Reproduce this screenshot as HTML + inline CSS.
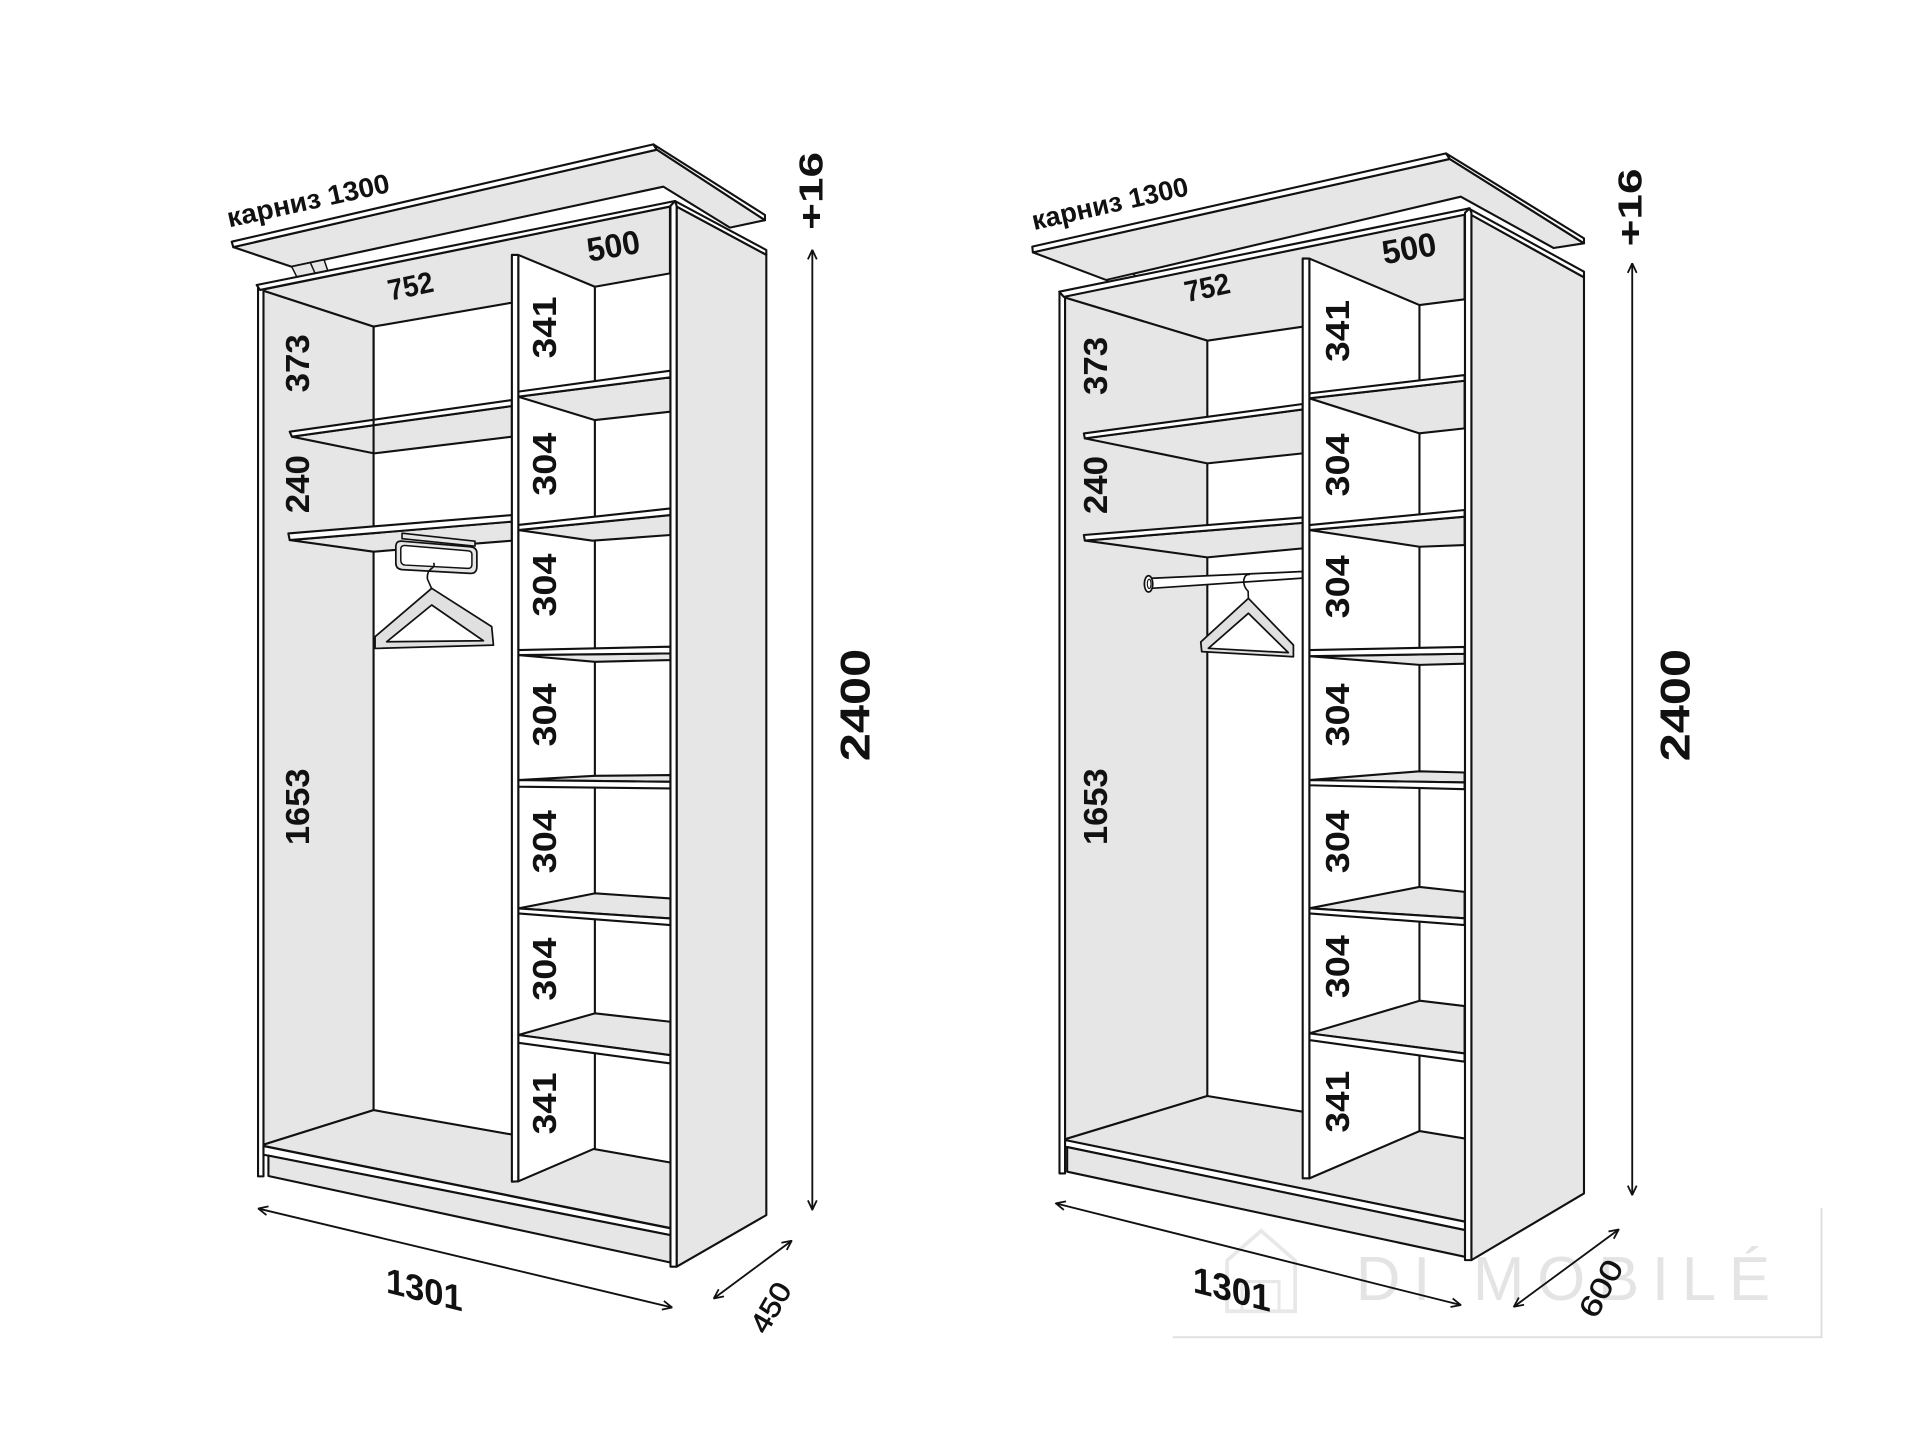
<!DOCTYPE html>
<html>
<head>
<meta charset="utf-8">
<style>
html,body{margin:0;padding:0;background:#fff;}
svg{display:block}
.g{fill:#e6e6e6;stroke:#111;stroke-width:1.7;stroke-linejoin:round}
.w{fill:#fff;stroke:#111;stroke-width:1.7;stroke-linejoin:round}
.l{fill:none;stroke:#111;stroke-width:1.7;stroke-linejoin:round}
.d{fill:none;stroke:#111;stroke-width:1.5}
.t{font-family:"Liberation Sans",Arial,sans-serif;font-weight:bold;fill:#111}
.n{font-family:"Liberation Sans",Arial,sans-serif;font-weight:normal;fill:#111}
</style>
</head>
<body>
<svg xmlns="http://www.w3.org/2000/svg" width="1920" height="1440" viewBox="0 0 1552.14 1164.11" preserveAspectRatio="none">
<defs>
<marker id="ah" viewBox="0 0 10 10" refX="9.5" refY="5" markerWidth="9" markerHeight="9" markerUnits="userSpaceOnUse" orient="auto-start-reverse">
<path d="M1,1 L9.5,5 L1,9" fill="none" stroke="#111" stroke-width="1.6"/>
</marker>
</defs>
<rect x="0" y="0" width="1552.14" height="1164.11" fill="#fff"/>

<!-- watermark -->
<g opacity="0.9">
<path d="M948,1081 L1472.5,1081 L1472.5,976.6" fill="none" stroke="#dcdcdc" stroke-width="1.6"/>
<path d="M992,1060 L992,1019 L1019.5,995 L1047,1019 L1047,1060 Z" fill="none" stroke="#e6e6e6" stroke-width="3"/>
<path d="M1004,1060 L1004,1036 L1034,1036 L1034,1060" fill="none" stroke="#e6e6e6" stroke-width="2.5"/>
<text x="1096" y="1051" font-family="Liberation Sans, Arial, sans-serif" font-size="50" fill="#e2e2e2" textLength="335" lengthAdjust="spacing">DI MOBILÉ</text>
</g>

<!-- ================= LEFT WARDROBE ================= -->
<!-- cornice -->
<polygon class="g" points="188.6,199.8 531,121 618.4,178 590.1,184 536.2,150.9 235.8,215.6"/>
<polygon class="w" points="187.3,195.4 528.2,116.7 531,121 188.6,199.8"/>
<polygon class="w" points="528.2,116.7 618.4,173.8 618.4,178 531,121"/>
<polygon class="g" style="stroke-width:1.2" points="235.8,215.6 262,210 265,218.9 240,224"/>
<line class="l" style="stroke-width:1.2" x1="251" y1="212.6" x2="255" y2="221.6"/>

<!-- right side outer face -->
<polygon class="g" points="547,167 619.5,206 619.5,982.3 547,1024"/>
<polygon class="w" points="545.7,162.5 619.5,202.1 619.5,206 547,167"/>

<!-- ceiling, left wall, floor -->
<polygon class="g" points="211,234.4 541.6,167 541.6,221 480.9,231.8 413.8,244.7 302,264"/>
<polygon class="g" points="211,234.4 302,264 302,897.4 211,926"/>
<polygon class="g" points="211,926 302,897.4 543,940 543,993"/>

<!-- partition face -->
<polygon class="w" points="419,206.1 480.9,231.8 480.9,928.4 419,955"/>

<!-- right compartment shelves -->
<polygon class="g" points="419,320.7 542,305 542,332.8 480.9,339.6"/>
<polygon class="w" points="419,316.6 542,299.7 542,305 419,320.7"/>
<polygon class="g" points="419,428.5 542,416.4 542,432.5 478.9,437.1"/>
<polygon class="w" points="419,424.4 542,411 542,416.4 419,428.5"/>
<polygon class="g" points="419,529.6 542,528.2 542,533.6 480.9,535"/>
<polygon class="w" points="419,525.5 542,522.8 542,528.2 419,529.6"/>
<polygon class="g" points="419,630.6 480.9,627.2 542,626.6 542,632"/>
<polygon class="w" points="419,630.6 542,632 542,637.4 419,636"/>
<polygon class="g" points="419,734.4 480.9,722.2 542,726.3 542,742.5"/>
<polygon class="w" points="419,734.4 542,742.5 542,747.8 419,738.4"/>
<polygon class="g" points="419,836.7 480.9,819.2 542,826 542,853"/>
<polygon class="w" points="419,836.7 542,853 542,859.7 419,843"/>

<!-- left compartment shelves -->
<polygon class="g" points="236,353 413.8,328.2 413.8,353 302.4,366.5"/>
<polygon class="w" points="234.2,349 413.8,323.4 413.8,328.2 236,353"/>
<polygon class="g" points="234.2,436.6 413.8,421.7 413.8,437.1 301.9,446"/>
<polygon class="w" points="233.1,431.2 413.8,416.4 413.8,421.7 234.2,436.6"/>

<!-- pull-down rail + hanger -->
<polygon class="g" style="stroke-width:1.3" points="325,431 384,437.5 384,441.5 325,435.5"/>
<path d="M320,442 L320,455 Q320,460 325,460.5 L380,463.5 Q385.5,463.8 385.5,458 L385.5,447 Q385.5,442.5 380,442 L325,437.5 Q320,437 320,442 Z" fill="#e6e6e6" stroke="#111" stroke-width="1.4"/>
<path d="M324,444 L324,453 Q324,456.5 327.5,456.8 L378,459.5 Q381.5,459.7 381.5,456 L381.5,448 Q381.5,445.5 378,445.2 L327.5,441 Q324,440.8 324,444 Z" fill="#fff" stroke="#111" stroke-width="1.2"/>
<path d="M349,476 L345.5,468 Q345,462 349,459.5 Q352,457.5 350.5,455" fill="none" stroke="#111" stroke-width="1.3"/>
<path d="M349,475.6 L397.5,506.6 L398.9,521.5 L303.2,524.2 L303.2,514.7 Z M349,489.1 L312.6,518.8 L390.8,518 Z" fill="#e0e0e0" fill-rule="evenodd" stroke="#111" stroke-width="1.4" stroke-linejoin="round"/>

<!-- back lines -->
<line class="l" x1="302" y1="264" x2="302" y2="366"/>

<!-- partition front strip -->
<polygon class="w" points="413.8,206 419,206.1 419,955 413.8,955.3"/>
<!-- left panel front strip -->
<polygon class="w" points="208.6,230.6 213,233.6 213,951 208.6,951"/>
<!-- top front strip -->
<polygon class="w" points="207.5,230.4 545.7,162.5 541.6,167 210.2,234.4"/>
<!-- right panel front strip -->
<polygon class="w" points="542,166.5 545.7,162.5 547,166.5 547,1024 542,1024"/>
<!-- bottom front strip and plinth -->
<polygon class="w" points="213,926.5 542,993 542,998.5 217,934.2 213,933.5"/>
<polygon class="g" points="217,934.2 542,998.5 542,1020.6 217,950.7"/>

<!-- labels left wardrobe -->
<text class="t" x="185.3" y="183.8" font-size="22" textLength="134" lengthAdjust="spacingAndGlyphs" transform="rotate(-12.4 185.3 183.8)">карниз 1300</text>
<text class="t" x="332" y="231.8" font-size="24" text-anchor="middle" dominant-baseline="central" textLength="37" lengthAdjust="spacingAndGlyphs" transform="rotate(-12 332 231.8)">752</text>
<text class="t" x="496" y="199.5" font-size="27" text-anchor="middle" dominant-baseline="central" textLength="43" lengthAdjust="spacingAndGlyphs" transform="rotate(-10 496 199.5)">500</text>

<g class="t" font-size="27" text-anchor="middle" dominant-baseline="central">
<text x="241.5" y="293.7" textLength="47" lengthAdjust="spacingAndGlyphs" transform="rotate(-90 241.5 293.7)">373</text>
<text x="241.5" y="391.4" textLength="47" lengthAdjust="spacingAndGlyphs" transform="rotate(-90 241.5 391.4)">240</text>
<text x="241.2" y="652.2" textLength="62" lengthAdjust="spacingAndGlyphs" transform="rotate(-90 241.2 652.2)">1653</text>
<text x="441" y="264.7" textLength="50" lengthAdjust="spacingAndGlyphs" transform="rotate(-90 441 264.7)">341</text>
<text x="441" y="375.3" textLength="51" lengthAdjust="spacingAndGlyphs" transform="rotate(-90 441 375.3)">304</text>
<text x="441" y="473" textLength="51" lengthAdjust="spacingAndGlyphs" transform="rotate(-90 441 473)">304</text>
<text x="441" y="578" textLength="51" lengthAdjust="spacingAndGlyphs" transform="rotate(-90 441 578)">304</text>
<text x="441" y="680.5" textLength="51" lengthAdjust="spacingAndGlyphs" transform="rotate(-90 441 680.5)">304</text>
<text x="441" y="783.5" textLength="51" lengthAdjust="spacingAndGlyphs" transform="rotate(-90 441 783.5)">304</text>
<text x="441" y="892" textLength="50" lengthAdjust="spacingAndGlyphs" transform="rotate(-90 441 892)">341</text>
<text x="656.6" y="154.3" textLength="63" lengthAdjust="spacingAndGlyphs" transform="rotate(-90 656.6 154.3)">+16</text>
<text x="691.2" y="569.9" font-size="34" textLength="91" lengthAdjust="spacingAndGlyphs" transform="rotate(-90 691.2 569.9)">2400</text>
</g>

<!-- dimension arrows left -->
<line class="d" x1="656.7" y1="202" x2="656.7" y2="978" marker-start="url(#ah)" marker-end="url(#ah)"/>
<line class="d" x1="208.8" y1="977" x2="543.3" y2="1057" marker-start="url(#ah)" marker-end="url(#ah)"/>
<line class="d" x1="577" y1="1049.7" x2="640" y2="1003" marker-start="url(#ah)" marker-end="url(#ah)"/>
<g transform="translate(343 1042) skewY(14)">
<text class="t" x="0" y="10.5" font-size="29" text-anchor="middle" textLength="62" lengthAdjust="spacingAndGlyphs">1301</text>
</g>
<g transform="translate(623 1057) rotate(-60)">
<text class="n" x="0" y="8" font-size="23" text-anchor="middle" textLength="43" lengthAdjust="spacingAndGlyphs" style="stroke:#111;stroke-width:0.5">450</text>
</g>

<!-- ================= RIGHT WARDROBE ================= -->
<polygon class="g" points="835,204 1172,128.5 1280.5,196.7 1256,200.5 1180.9,159 894.4,226.4"/>
<polygon class="w" points="834.5,199.4 1169,124 1172,128.5 835,204"/>
<polygon class="w" points="1169,124 1280.5,192.7 1280.5,196.7 1172,128.5"/>
<polygon class="g" style="stroke-width:1.2" points="894.4,226.4 916,221.4 918,223.2 897,227.6"/>

<polygon class="g" points="1189.5,173.8 1280.5,224.2 1280.5,964.8 1189.5,1018.7"/>
<polygon class="w" points="1187,168.4 1280.5,219.6 1280.5,224.2 1189.5,173.8"/>

<polygon class="g" points="859,240 1184,173.5 1184,242 1147.5,246.6 1053.2,264.1 976,275.4"/>
<polygon class="g" points="859,240 976,275.4 976,886 859,921.6"/>
<polygon class="g" points="859,921.6 976,886 1185,920.5 1185,987.7"/>

<polygon class="w" points="1058.5,209 1147.5,246.6 1147.5,914.4 1058.5,952.6"/>

<polygon class="g" points="1058.5,322 1184,307.8 1184,346.3 1147.5,350.3"/>
<polygon class="w" points="1058.5,318 1184,303.2 1184,307.8 1058.5,322"/>
<polygon class="g" points="1058.5,428.5 1184,417.7 1184,440.6 1147.5,442"/>
<polygon class="w" points="1058.5,424.5 1184,412.3 1184,417.7 1058.5,428.5"/>
<polygon class="g" points="1058.5,530.5 1184,528.5 1184,536.5 1147.5,537.5"/>
<polygon class="w" points="1058.5,525.5 1184,523 1184,528.5 1058.5,530.5"/>
<polygon class="g" points="1058.5,630.6 1147.5,623.5 1184,624.5 1184,632.5"/>
<polygon class="w" points="1058.5,630.6 1184,632.5 1184,638 1058.5,634.8"/>
<polygon class="g" points="1058.5,734.3 1147.5,717 1184,721 1184,742.4"/>
<polygon class="w" points="1058.5,734.3 1184,742.4 1184,747.8 1058.5,738.4"/>
<polygon class="g" points="1058.5,835.4 1147.7,809 1184,813.3 1184,851.6"/>
<polygon class="w" points="1058.5,835.4 1184,851.6 1184,858.3 1058.5,840.8"/>

<polygon class="g" points="877,354.4 1053.1,331 1053.1,366.5 976,374.6"/>
<polygon class="w" points="876.2,350.4 1053.1,326.6 1053.1,331 877,354.4"/>
<polygon class="g" points="877,437 1053.1,422.7 1053.1,443.3 976,450.6"/>
<polygon class="w" points="876.2,432.5 1053.1,418.3 1053.1,422.7 877,437"/>

<!-- rod + hanger -->
<polygon class="w" style="stroke-width:1.4" points="931,467.5 1053,462 1053,467.4 931,475.6"/>
<ellipse cx="928.5" cy="472" rx="3.4" ry="6.6" fill="#fff" stroke="#111" stroke-width="1.4"/>
<ellipse cx="929" cy="472" rx="1.5" ry="3.8" fill="none" stroke="#111" stroke-width="0.9"/>
<path d="M1009.2,484 L1009,478 Q1005,474 1005.5,469 Q1006.5,463.5 1010.5,464.5" fill="none" stroke="#111" stroke-width="1.3"/>
<path d="M1009.2,483.7 L1045.6,521.4 L1045.6,530.9 L971.5,526.8 L970.7,519 Z M1009.2,495.8 L976.9,524.1 L1041.5,527.6 Z" fill="#e0e0e0" fill-rule="evenodd" stroke="#111" stroke-width="1.4" stroke-linejoin="round"/>

<polygon class="w" points="1053.1,208.9 1058.5,209 1058.5,952.6 1053.1,952.6"/>
<polygon class="w" points="856.5,236 861,239.4 861,948.6 856.5,948.6"/>
<polygon class="w" points="856.3,235.8 1188.1,168.4 1184.5,173.5 860,240"/>
<polygon class="w" points="1184.3,172 1188.1,168.4 1189.5,172 1189.5,1018.7 1184.3,1018.7"/>
<polygon class="w" points="861,921.6 1184.3,987.7 1184.3,994.4 862.7,927.3 861,927"/>
<polygon class="g" points="862.7,927.3 1184.3,994.4 1184.3,1016 862.7,947.2"/>

<!-- labels right wardrobe -->
<text class="t" x="836" y="186" font-size="22" textLength="129" lengthAdjust="spacingAndGlyphs" transform="rotate(-12.7 836 186)">карниз 1300</text>
<text class="t" x="976" y="233" font-size="24" text-anchor="middle" dominant-baseline="central" textLength="37" lengthAdjust="spacingAndGlyphs" transform="rotate(-12 976 233)">752</text>
<text class="t" x="1139.2" y="201.5" font-size="27" text-anchor="middle" dominant-baseline="central" textLength="44" lengthAdjust="spacingAndGlyphs" transform="rotate(-10 1139.2 201.5)">500</text>

<g class="t" font-size="27" text-anchor="middle" dominant-baseline="central">
<text x="886.3" y="295.8" textLength="47" lengthAdjust="spacingAndGlyphs" transform="rotate(-90 886.3 295.8)">373</text>
<text x="886.3" y="392.1" textLength="47" lengthAdjust="spacingAndGlyphs" transform="rotate(-90 886.3 392.1)">240</text>
<text x="886.5" y="652.1" textLength="62" lengthAdjust="spacingAndGlyphs" transform="rotate(-90 886.5 652.1)">1653</text>
<text x="1082" y="267.5" textLength="50" lengthAdjust="spacingAndGlyphs" transform="rotate(-90 1082 267.5)">341</text>
<text x="1082" y="375.9" textLength="51" lengthAdjust="spacingAndGlyphs" transform="rotate(-90 1082 375.9)">304</text>
<text x="1082" y="474.4" textLength="51" lengthAdjust="spacingAndGlyphs" transform="rotate(-90 1082 474.4)">304</text>
<text x="1082" y="578" textLength="51" lengthAdjust="spacingAndGlyphs" transform="rotate(-90 1082 578)">304</text>
<text x="1082" y="680.4" textLength="51" lengthAdjust="spacingAndGlyphs" transform="rotate(-90 1082 680.4)">304</text>
<text x="1082" y="781.5" textLength="51" lengthAdjust="spacingAndGlyphs" transform="rotate(-90 1082 781.5)">304</text>
<text x="1082" y="890.6" textLength="50" lengthAdjust="spacingAndGlyphs" transform="rotate(-90 1082 890.6)">341</text>
<text x="1318.7" y="167.7" textLength="63" lengthAdjust="spacingAndGlyphs" transform="rotate(-90 1318.7 167.7)">+16</text>
<text x="1354" y="570" font-size="34" textLength="91" lengthAdjust="spacingAndGlyphs" transform="rotate(-90 1354 570)">2400</text>
</g>

<line class="d" x1="1319.5" y1="212.9" x2="1319.5" y2="966.1" marker-start="url(#ah)" marker-end="url(#ah)"/>
<line class="d" x1="853.5" y1="972.8" x2="1180.9" y2="1055" marker-start="url(#ah)" marker-end="url(#ah)"/>
<line class="d" x1="1223.8" y1="1056.4" x2="1308.6" y2="993.9" marker-start="url(#ah)" marker-end="url(#ah)"/>
<g transform="translate(995.8 1041.5) skewY(14.5)">
<text class="t" x="0" y="11" font-size="30" text-anchor="middle" textLength="63" lengthAdjust="spacingAndGlyphs">1301</text>
</g>
<g transform="translate(1294 1041.5) rotate(-62)">
<text class="n" x="0" y="8.5" font-size="24" text-anchor="middle" textLength="49" lengthAdjust="spacingAndGlyphs" style="stroke:#111;stroke-width:0.4">600</text>
</g>
</svg>
</body>
</html>
